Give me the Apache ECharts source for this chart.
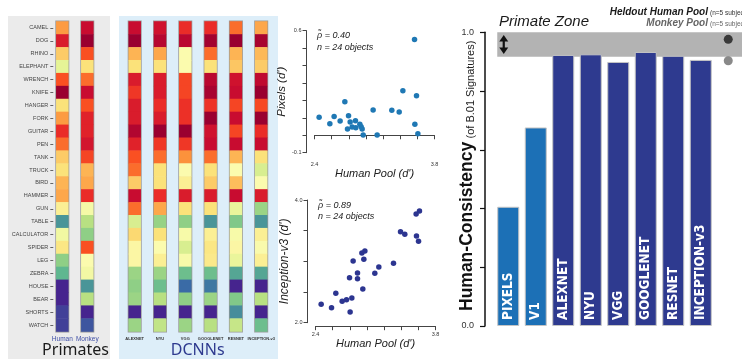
<!DOCTYPE html>
<html><head><meta charset="utf-8">
<script src="https://cdn.jsdelivr.net/npm/echarts@6/dist/echarts.min.js"></script>
<style>html,body{margin:0;padding:0;background:#fff}#c{width:742px;height:360px}</style>
</head><body><div id="c"></div>
<script>
// ---------- DATA ----------
const objects = ['CAMEL','DOG','RHINO','ELEPHANT','WRENCH','KNIFE','HANGER','FORK','GUITAR','PEN','TANK','TRUCK','BIRD','HAMMER','GUN','TABLE','CALCULATOR','SPIDER','LEG','ZEBRA','HOUSE','BEAR','SHORTS','WATCH'];
// heat levels (0 = low, 14 = high)
const humanVals     = [9.6,12.5,8.5,6,11,14,8,9.6,12,10.5,8.5,8,9,9.3,7.5,2,6.5,7.8,4,3,0,0,0.4,0.4];
const monkeyVals    = [13,14,11,8,10.5,13,11,12.3,12.3,12.7,11.3,9,9.3,12,6.7,5,4,11,7,6.6,2,5,0,0.7];
const alexnetVals   = [13,14,9,8,12.5,11.7,12.5,12.5,13.5,12.3,11,10.5,8.5,13,10.5,5.7,8.2,7.2,7.2,4.3,4,4.3,0,4.3];
const nyuVals       = [12.8,13.4,9.3,8,12.5,12.5,12,12.5,14,11.7,10.5,8,8,12,9.3,4.2,8,7,7.5,4.3,3.3,5,0,5.2];
const vggVals       = [12,13.3,7,7,11.3,11.3,11.9,11.9,14,11.7,9.8,7,7.5,12.5,8,4,6.8,5.7,6.8,3.3,1,4,0,4.3];
const googlenetVals = [12,13.8,10.5,8,13.3,13.7,11.8,14,12.8,13,10.5,8,8.5,12.5,8,2,7.5,7.8,7.7,3.3,1.3,4.3,0,5];
const resnetVals    = [10.5,14,9,8.6,12.8,13,11.3,13,11.3,13,9,7,8.8,13,6.2,3.7,6.8,7.2,6.2,2.5,0,3.7,1.8,5.3];
const inceptionVals = [9.3,13.7,8.9,8.5,13.2,14,11.2,14,12,13,8,5.7,7,12.5,4.3,2,7.5,6.9,7.5,2.5,0,5,0,3.3];

// scatter: human pool d' vs model d'
const pixHumanX = [2.454,2.579,2.629,2.699,2.754,2.797,2.785,2.816,2.839,2.878,2.882,2.929,2.944,2.956,2.968,3.084,3.131,3.302,3.388,3.431,3.567,3.590,3.571,3.606];
const pixModelY = [0.103,0.066,0.107,0.082,0.193,0.112,0.036,0.076,0.047,0.084,0.043,0.063,0.049,0.036,0.001,0.145,0.001,0.143,0.133,0.256,0.550,0.227,0.063,0.009];
const incHumanX = [2.466,2.587,2.637,2.711,2.762,2.824,2.804,2.797,2.839,2.890,2.890,2.952,2.941,2.976,2.964,3.092,3.139,3.310,3.392,3.442,3.578,3.602,3.574,3.613];
const incModelY = [2.299,2.245,2.478,2.348,2.375,2.402,2.174,2.734,3.005,2.810,2.717,2.549,3.136,3.168,3.033,2.804,2.908,2.967,3.484,3.440,3.413,3.326,3.772,3.821];

// bar chart: human consistency
const barCats = ['PIXELS','V1','ALEXNET','NYU','VGG','GOOGLENET','RESNET','INCEPTION-v3'];
const barVals = [0.406,0.676,0.923,0.925,0.899,0.933,0.920,0.906];
const primateZone = [0.917, 1.0];
const heldoutHumanPool = 0.976;
const monkeyPool = 0.903;

// ---------- CHART ----------
const heatColors = ['#46248e','#3a6ba6','#4a9598','#5fb790','#8fcf86','#b8e082','#e6f496','#fbfbae','#fbe27a','#fdb454','#fc8a36','#fa5022','#ea2c28','#c80c30','#9a0030'];
const chart = echarts.init(document.getElementById('c'), null, {renderer:'canvas'});
const grids=[], xAxes=[], yAxes=[], series=[];
const heatCols = [
  {name:'Human', vals:humanVals, c:62.3, g:'p'},
  {name:'Monkey', vals:monkeyVals, c:87.3, g:'p'},
  {name:'ALEXNET', vals:alexnetVals, c:134.7, g:'d'},
  {name:'NYU', vals:nyuVals, c:160.0, g:'d'},
  {name:'VGG', vals:vggVals, c:185.3, g:'d'},
  {name:'GOOGLENET', vals:googlenetVals, c:210.6, g:'d'},
  {name:'RESNET', vals:resnetVals, c:235.9, g:'d'},
  {name:'INCEPTION-v3', vals:inceptionVals, c:261.2, g:'d'}
];
heatCols.forEach((col,i)=>{
  grids.push({left:col.c-6, top:21.5, width:12, height:310, show:true, borderColor:'#9a9a9a', borderWidth:2, backgroundColor:'transparent'});
  xAxes.push({gridIndex:i, type:'category', data:[col.name], axisLine:{show:false}, axisTick:{show:false},
    axisLabel: col.g==='p' ? {interval:0, fontSize:6.5, color:'#3f4fa6', margin:4, fontFamily:'Liberation Sans'}
                           : {interval:0, fontSize:4, color:'#333', fontWeight:'bold', margin:5, fontFamily:'Liberation Sans'}});
  yAxes.push({gridIndex:i, type:'category', data:objects, inverse:true, show:i===0, offset:3,
    axisLine:{show:false}, axisTick:{show:true, length:3, alignWithLabel:true, lineStyle:{color:'#666'}},
    axisLabel:{interval:0, fontSize:5.5, color:'#444', margin:5, fontFamily:'Liberation Sans'}});
  series.push({type:'heatmap', xAxisIndex:i, yAxisIndex:i, data:col.vals.map((v,r)=>[0,r,v]), itemStyle:{borderWidth:0}, emphasis:{disabled:true}});
});

const fmt1 = v=>v.toFixed(1);
const scat = [
  {left:314.5, top:30.7, h:122, ymin:-0.1, ymax:0.6, yint:0.1, yname:"Pixels (d')", ynameSize:11.5, xs:pixHumanX, ys:pixModelY, color:'#1f78b4'},
  {left:315.5, top:200, h:122.7, ymin:2.0, ymax:4.0, yint:0.5, yname:"Inception-v3 (d')", ynameSize:12, xs:incHumanX, ys:incModelY, color:'#2c3590'}
];
scat.forEach((s,k)=>{
  const gi = 8+k;
  grids.push({left:s.left, top:s.top, width:120, height:s.h});
  xAxes.push({gridIndex:gi, type:'value', min:2.4, max:3.8, interval:0.2, offset:3.5,
    axisLine:{show:true, lineStyle:{color:'#444', width:1}}, axisTick:{show:true, length:4, lineStyle:{color:'#444'}},
    splitLine:{show:false},
    axisLabel:{fontSize:5.5, color:'#333', margin:5, fontFamily:'Liberation Sans',
      formatter:v=>(Math.abs(v-2.4)<1e-6||Math.abs(v-3.8)<1e-6)?fmt1(v):''},
    name:"Human Pool (d')", nameLocation:'middle', nameGap:8,
    nameTextStyle:{fontSize:11, fontStyle:'italic', color:'#222', fontFamily:'Liberation Sans'}});
  yAxes.push({gridIndex:gi, type:'value', min:s.ymin, max:s.ymax, interval:s.yint, offset:8,
    axisLine:{show:true, lineStyle:{color:'#444', width:1}}, axisTick:{show:true, length:4, lineStyle:{color:'#444'}},
    splitLine:{show:false},
    axisLabel:{fontSize:5.5, color:'#333', margin:5, fontFamily:'Liberation Sans',
      formatter:v=>(Math.abs(v-s.ymin)<1e-6||Math.abs(v-s.ymax)<1e-6)?fmt1(v):''},
    name:s.yname, nameLocation:'middle', nameRotate:90, nameGap:4,
    nameTextStyle:{fontSize:s.ynameSize, fontStyle:'italic', color:'#222', fontFamily:'Liberation Sans'}});
  series.push({type:'scatter', xAxisIndex:gi, yAxisIndex:gi, symbolSize:5.5, data:s.xs.map((x,i)=>[x,s.ys[i]]),
    itemStyle:{color:s.color, opacity:1}});
});

// bar chart grid (index 10)
grids.push({left:494.5, right:0, top:32.3, bottom:34});
xAxes.push({gridIndex:10, type:'category', data:[...barCats, ''], axisLine:{show:false}, axisTick:{show:false}, axisLabel:{show:false}});
yAxes.push({gridIndex:10, type:'value', min:0, max:1, interval:0.2, offset:9.5,
  axisLine:{show:true, lineStyle:{color:'#111', width:1.5}}, axisTick:{show:true, length:5, lineStyle:{color:'#111', width:1.2}},
  splitLine:{show:false},
  axisLabel:{fontSize:9, color:'#333', margin:11, fontFamily:'Liberation Sans',
    formatter:v=>(v===0||v===1)?fmt1(v):''}});
series.push({type:'custom', xAxisIndex:10, yAxisIndex:10, z:1, silent:true, data:[[0, primateZone[0], primateZone[1]]],
  renderItem:(params, api)=>{
    const cs = params.coordSys;
    const pTop = api.coord([api.value(0), api.value(2)]);
    const pBot = api.coord([api.value(0), api.value(1)]);
    const left = pTop[0] - 11;
    const right = cs.x + cs.width + 5;
    const t = pTop[1], b = pBot[1];
    const cx = left + 6.5, at = t + 2.7, ab = b - 2.7;
    return {type:'group', children:[
      {type:'rect', shape:{x:left, y:t, width:right-left, height:b-t}, style:{fill:'#b3b3b3'}},
      {type:'line', shape:{x1:cx, y1:at+5, x2:cx, y2:ab-5}, style:{stroke:'#111', lineWidth:2.2}},
      {type:'polygon', shape:{points:[[cx,at],[cx-4.5,at+6.5],[cx+4.5,at+6.5]]}, style:{fill:'#111'}},
      {type:'polygon', shape:{points:[[cx,ab],[cx-4.5,ab-6.5],[cx+4.5,ab-6.5]]}, style:{fill:'#111'}}
    ]};
  }});
series.push({type:'bar', xAxisIndex:10, yAxisIndex:10, z:3, barWidth:22,
  data:barVals.map((v,i)=>({value:v, itemStyle:{color: i<2 ? '#1c70b6' : '#2e3a8f'}})),
  itemStyle:{borderColor:'#c4c4c4', borderWidth:1},
  label:{show:true, formatter:'{b}', position:'insideBottom', rotate:90, align:'left', verticalAlign:'middle', distance:6,
    color:'#fff', fontWeight:'bold', fontSize:13.5, fontFamily:'"Liberation Sans Narrow","DejaVu Sans Condensed",sans-serif'}});
series.push({type:'scatter', xAxisIndex:10, yAxisIndex:10, z:4, symbolSize:9, data:[[8, heldoutHumanPool]], itemStyle:{color:'#1a1a1a'}});
series.push({type:'scatter', xAxisIndex:10, yAxisIndex:10, z:4, symbolSize:9, data:[[8, monkeyPool]], itemStyle:{color:'#6b6b6b'}});

const txt = (x,y,text,font,fill,align,extra)=>Object.assign({type:'text', x, y, z:10, silent:true,
  style:{text, font, fill, textAlign:align||'left', textVerticalAlign:'middle'}}, extra||{});

const option = {
  animation:false,
  backgroundColor:'#fff',
  visualMap:{type:'continuous', show:false, min:0, max:14, seriesIndex:[0,1,2,3,4,5,6,7], inRange:{color:heatColors}},
  grid:grids, xAxis:xAxes, yAxis:yAxes, series,
  graphic:[
    {type:'rect', z:-10, silent:true, shape:{x:8, y:16, width:102, height:343}, style:{fill:'#ebebeb'}},
    {type:'rect', z:-10, silent:true, shape:{x:119, y:16, width:159, height:343}, style:{fill:'#ddeef9'}},
    txt(75.5, 350, 'Primates', '16px "Noto Sans"', '#1a1a1a', 'center'),
    txt(197.7, 350, 'DCNNs', '16px "Noto Sans"', '#2e3a8f', 'center'),
    txt(317, 35.5, 'ρ\u0303 = 0.40', 'italic 9px "Liberation Sans"', '#222'),
    txt(317, 47, 'n = 24 objects', 'italic 9px "Liberation Sans"', '#222'),
    txt(318, 205, 'ρ\u0303 = 0.89', 'italic 9px "Liberation Sans"', '#222'),
    txt(318, 216, 'n = 24 objects', 'italic 9px "Liberation Sans"', '#222'),
    txt(499, 21.5, 'Primate Zone', 'italic 15px "Liberation Sans"', '#1a1a1a'),
    txt(708, 12.5, 'Heldout Human Pool', 'italic bold 10px "Liberation Sans"', '#1a1a1a', 'right'),
    txt(710, 13, '(n=5 subjects)', '6.5px "Liberation Sans"', '#333'),
    txt(708, 23.5, 'Monkey Pool', 'italic bold 10px "Liberation Sans"', '#666', 'right'),
    txt(710, 24, '(n=5 subjects)', '6.5px "Liberation Sans"', '#666'),
    {type:'text', x:476, y:311, rotation:Math.PI/2, z:10, silent:true,
      style:{text:'{a|Human-Consistency} {b|(of B.01 Signatures)}', textAlign:'left', textVerticalAlign:'bottom',
        rich:{a:{fontSize:17.5, fontWeight:'bold', fill:'#111', fontFamily:'Liberation Sans', verticalAlign:'bottom'},
              b:{fontSize:11, fill:'#222', fontFamily:'Liberation Sans', verticalAlign:'bottom'}}}}
  ]
};
chart.setOption(option);
</script></body></html>
